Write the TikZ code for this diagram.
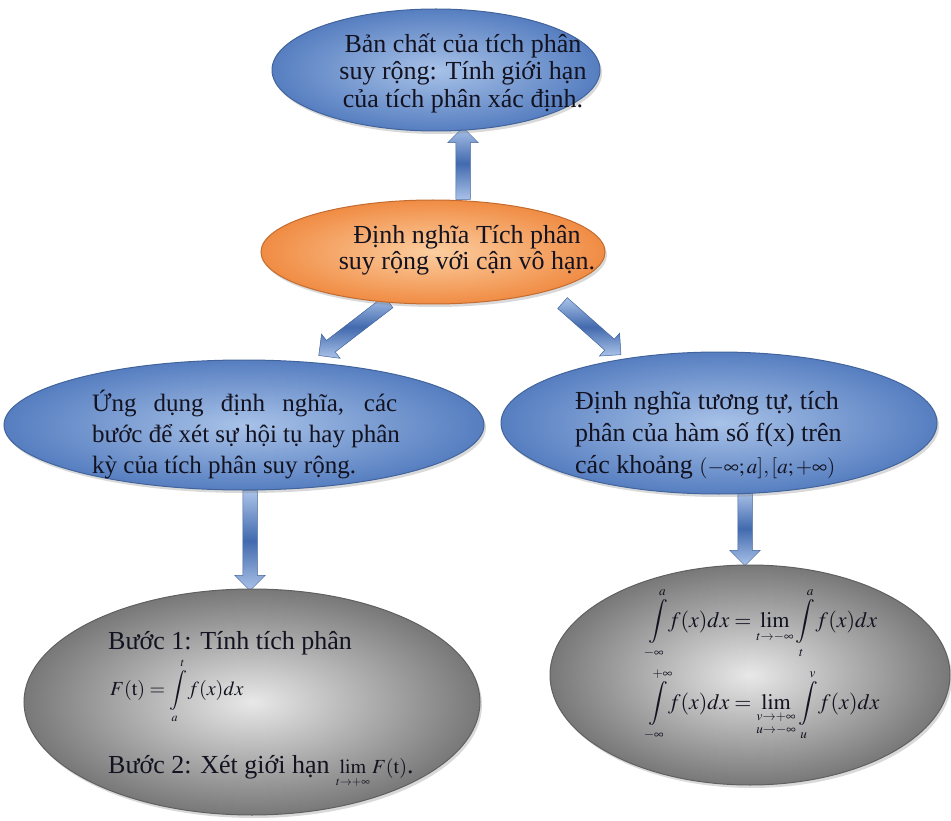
\documentclass[tikz,border=0pt]{standalone}
\usepackage{amsmath}
\usepackage{mathptmx}
\usepackage{fontspec}
\setmainfont{Liberation Serif}
\usetikzlibrary{shapes.geometric,shapes.arrows,shadows,calc}

\definecolor{bluein}{RGB}{168,194,232}
\definecolor{blueout}{RGB}{86,126,192}
\definecolor{blueedge}{RGB}{66,100,156}
\definecolor{orangein}{RGB}{252,206,160}
\definecolor{orangeout}{RGB}{240,140,68}
\definecolor{orangeedge}{RGB}{196,108,48}
\definecolor{grayin}{RGB}{232,232,232}
\definecolor{grayout}{RGB}{120,120,120}
\definecolor{grayedge}{RGB}{96,96,96}
\definecolor{arrowlight}{RGB}{170,194,232}
\definecolor{arrowdark}{RGB}{66,106,174}
\definecolor{inktext}{RGB}{18,18,32}

\pgfdeclarelayer{back}
\pgfsetlayers{back,main}

% tiny limits for integrals and lim
\newcommand{\tl}[1]{{\scriptscriptstyle #1}}

\tikzset{
  bubble/.style={ellipse, line width=1pt, inner sep=0pt, outer sep=0pt,
    drop shadow={opacity=0.3, shadow xshift=2pt, shadow yshift=-3pt}},
  bluebubble/.style={bubble, draw=blueedge, inner color=bluein, outer color=blueout},
  orangebubble/.style={bubble, draw=orangeedge, inner color=orangein, outer color=orangeout},
  graybubble/.style={bubble, draw=grayedge, inner color=grayin, outer color=grayout},
  txt/.style={inner sep=0pt, text=inktext, font=\fontsize{26}{27.5}\selectfont},
  blockarrow/.style={single arrow, draw=blueedge, line width=0.5pt,
    top color=arrowlight, bottom color=arrowlight, middle color=arrowdark,
    inner xsep=0pt, inner ysep=7pt, single arrow head extend=8pt,
    single arrow head indent=0pt, outer sep=0pt}
}

\begin{document}
\begin{tikzpicture}[x=1pt,y=-1pt]
\useasboundingbox (0,0) rectangle (951,821);

% bubbles
\node[bluebubble, minimum width=328pt, minimum height=122pt] (top) at (436,70) {};
\node[orangebubble, minimum width=344pt, minimum height=104pt] (def) at (433,252) {};
\node[bluebubble, minimum width=480pt, minimum height=130pt] (apply) at (244,425) {};
\node[bluebubble, minimum width=436pt, minimum height=142pt] (sim) at (719,423) {};
\node[graybubble, minimum width=456pt, minimum height=226pt] (steps) at (252,702) {};
\node[graybubble, minimum width=400pt, minimum height=220pt] (forms) at (750,675) {};

% texts
\node[txt, align=center] (toptext) at (463,73)
  {Bản chất của tích phân\\suy rộng: Tính giới hạn\\của tích phân xác định.};
\node[txt, align=center, font=\fontsize{26}{26}\selectfont] (deftext) at (467,250)
  {Định nghĩa Tích phân\\suy rộng với cận vô hạn.};
\node[txt, align=left, font=\fontsize{25}{31}\selectfont, anchor=west] (applytext) at (92,434)
  {\makebox[305pt][s]{Ứng dụng định nghĩa, các}\\bước để xét sự hội tụ hay phân\\kỳ của tích phân suy rộng.};
\node[txt, align=left, font=\fontsize{26}{32}\selectfont, anchor=west] (simtext) at (575,435)
  {Định nghĩa tương tự, tích\\phân của hàm số f(x) trên\\các khoảng {\fontsize{21}{24}\selectfont$(-\infty;a],[a;+\infty)$}};

\node[txt, anchor=west] (step1) at (108,643) {Bước 1: Tính tích phân};
\node[txt, anchor=base west, font=\fontsize{20}{22}\selectfont] (step1f) at (110,695)
  {$\displaystyle F(\mathrm{t})=\int\limits_{\tl{a}}^{\tl{t}}\! f(x)dx$};
\node[txt, anchor=base west] (step2) at (108,773)
  {Bước 2: Xét giới hạn {\fontsize{20}{22}\selectfont$\lim\limits_{\tl{t\to+\infty}}F(\mathrm{t})$}.};

\node[txt, anchor=base west, font=\fontsize{22}{26}\selectfont] (form1) at (648,627)
  {$\displaystyle\int\limits_{\tl{-\infty}}^{\tl{a}}\! f(x)dx=\lim_{\tl{t\to-\infty}}\int\limits_{\tl{t}}^{\tl{a}}\! f(x)dx$};
\node[txt, anchor=base west, font=\fontsize{22}{26}\selectfont] (form2) at (648,709)
  {$\displaystyle\int\limits_{\tl{-\infty}}^{\tl{+\infty}}\! f(x)dx=\lim_{\substack{\tl{v\to+\infty}\\ \tl{u\to-\infty}}}\int\limits_{\tl{u}}^{\tl{v}}\! f(x)dx$};

% block arrows between bubbles
\begin{pgfonlayer}{back}
\path ($(def.north)+(30,4)$) -- ($(top.south)+(27,-1)$)
  node[midway, sloped, allow upside down, blockarrow, minimum height=72pt] (a1) {};
\path ($(def.south)+(-42,-4)$) -- ($(apply.north)+(78,-7)$)
  node[midway, sloped, allow upside down, blockarrow, minimum height=88pt] (a2) {};
\path ($(def.south)+(126,-4)$) -- ($(sim.north)+(-100,1)$)
  node[midway, sloped, allow upside down, blockarrow, minimum height=78pt] (a3) {};
\path ($(apply.south)+(6,-4)$) -- ($(steps.north)+(-2,-1)$)
  node[midway, sloped, allow upside down, blockarrow, minimum height=100pt] (a4) {};
\path ($(sim.south)+(26,-6)$) -- ($(forms.north)+(-5,-3)$)
  node[midway, sloped, allow upside down, blockarrow, minimum height=74pt] (a5) {};
\end{pgfonlayer}
\end{tikzpicture}
\end{document}
